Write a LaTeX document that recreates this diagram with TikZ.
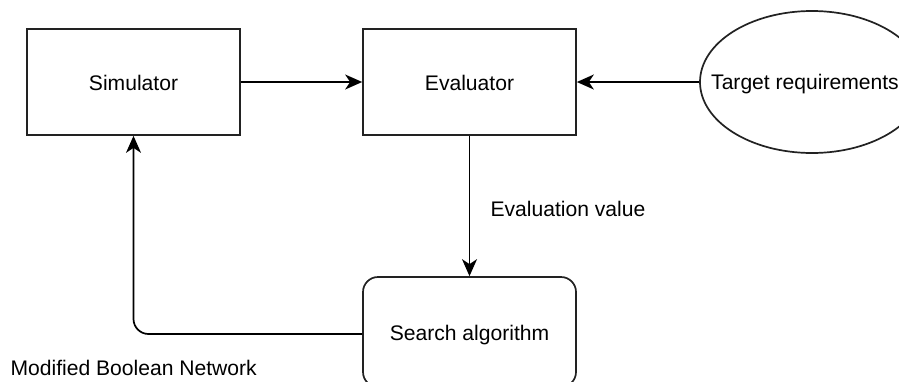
\documentclass[tikz,border=0pt]{standalone}
\usepackage{fontspec}
\setmainfont{Liberation Sans}
\usetikzlibrary{arrows.meta,shapes.geometric}
\definecolor{edgecol}{HTML}{222222}
\tikzset{
  box/.style={draw=edgecol, line width=1.7pt, minimum width=213pt, minimum height=106pt, inner sep=0pt, text depth=0pt, yshift=0pt},
  rbox/.style={box, rounded corners=15pt, minimum height=110pt},
  oval/.style={draw=edgecol, line width=1.7pt, ellipse, minimum width=224pt, minimum height=142pt, inner sep=0pt},
  conn/.style={draw=black, line width=1.7pt, -{Stealth[length=17pt, width=15pt, inset=5pt]}},
  txt/.style={font=\fontsize{21.1}{24}\selectfont, text=black}
}
\begin{document}
\begin{tikzpicture}[x=1pt, y=-1pt, every node/.style={txt}]
\useasboundingbox (0,0) rectangle (899,381);
\clip (0,0) rectangle (899,381);
\fill[white] (0,0) rectangle (899,381);
\node[box] (sim) at (133.5,82) {\raisebox{-2pt}{Simulator}};
\node[box] (eval) at (469.5,82) {\raisebox{-2pt}{Evaluator}};
\node[oval, label={[txt, xshift=-7pt, yshift=-2pt]center:Target requirements}] (tr) at (812,82) {};
\node[rbox] (search) at (469.5,332) {\raisebox{-1pt}{Search algorithm}};
\node[anchor=west] (evlab) at (487,209) {Evaluation value};
\node[anchor=west] (mbn) at (7,368) {Modified Boolean Network};
\draw[conn] (sim.east) -- (eval.west);
\draw[conn] (tr.west) -- (eval.east);
\draw[conn] (eval.south) -- (search.north);
\draw[conn, rounded corners=15pt] ([yshift=-2pt]search.west) -| (sim.south);
\end{tikzpicture}
\end{document}
